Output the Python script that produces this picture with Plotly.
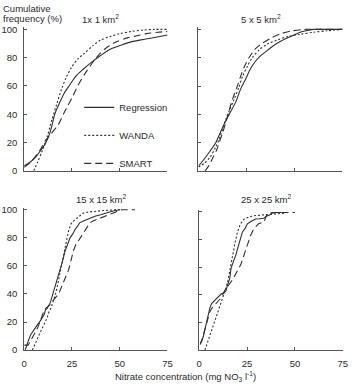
import plotly.graph_objects as go

W, H = 353, 388

# ---------------- data ----------------
# Panel 1: 1 x 1 km2
p1_reg_x = [0, 3, 6, 9, 11, 13.5, 16, 18.5, 21, 24, 27, 31, 35, 40, 45, 51, 57, 63, 69, 75]
p1_reg_y = [3.5, 6, 9.7, 15, 19, 27, 40, 48, 55, 61, 67, 72, 76.5, 81.5, 86, 89, 91.5, 93, 94.5, 96]
p1_wan_x = [5, 7, 9.4, 12, 14.5, 17, 19.6, 22, 24.7, 28, 31.5, 36, 40, 45, 50, 56, 62, 68, 75]
p1_wan_y = [0, 6, 14, 24, 36, 47, 58, 66, 73, 79, 83, 88.5, 92.5, 95, 97, 98.5, 99.5, 100, 100]
p1_sma_x = [0, 4, 8, 11, 14, 18, 20.5, 23, 25.5, 28, 31.5, 35, 39, 43.5, 48, 54, 59, 64, 70, 75]
p1_sma_y = [2.5, 7, 14, 21, 26, 33, 40, 46.5, 53, 60, 68, 75, 82, 87.5, 91, 94, 95.5, 97, 98, 98.5]

# Panel 2: 5 x 5 km2
p2_reg_x = [0, 3, 6, 9, 11, 14.4, 17, 19.5, 22, 24.6, 27, 29.7, 32, 34.8, 39, 43.3, 48, 52, 56, 60, 67, 75]
p2_reg_y = [3.4, 8.5, 14, 20, 26, 36, 42.5, 49, 58, 65, 72, 77.5, 81, 84, 88.5, 92, 95, 97.5, 99, 100, 100, 100]
p2_wan_x = [0, 3, 6, 9, 11, 14.4, 16.5, 18.7, 21, 23, 25.5, 28, 32, 36.5, 41, 46.7, 53, 60, 67, 75]
p2_wan_y = [2.8, 5.5, 9.7, 17, 23.4, 37, 44, 51, 59, 67, 74, 80, 86, 90, 92.5, 95, 96.5, 98, 99, 100]
p2_sma_x = [3.4, 5.5, 7.6, 9.5, 11, 12.8, 14.4, 16, 17.8, 20, 22, 24, 26.3, 29.5, 33, 38, 43, 49, 55, 62, 75]
p2_sma_y = [0, 4, 9.7, 15, 21, 28, 35, 43, 51, 59, 67, 74, 80, 86, 90, 94, 97, 99, 100, 100, 100]

# Panel 3: 15 x 15 km2
p3_reg_x = [0.5, 1, 2, 3.4, 5, 6.9, 8.5, 9.5, 10.5, 11.2, 12, 13.7, 15, 16.3, 17.5, 18.9, 20, 21.5,
            22.8, 24, 25.5, 26.6, 28, 29, 31, 32.6, 35, 37, 40, 43, 46, 50]
p3_reg_y = [0, 2.5, 6, 11, 14.5, 18, 21, 23.6, 25.5, 29, 29.5, 34, 40, 45.6, 51, 57, 63, 71,
            75.5, 80, 83, 86, 88.5, 90.7, 92, 93, 94.5, 95.4, 96.5, 98, 99, 100]
p3_wan_x = [4.3, 5.5, 6.9, 8.5, 10.3, 12, 12.9, 14, 15.5, 17, 18, 19.5, 20.6, 22, 23.2, 24.5,
            25.8, 28, 31, 34, 37, 42, 47, 51]
p3_wan_y = [0, 4, 8.6, 13, 18, 23, 27, 30, 36, 43, 50, 60, 69, 79, 85, 90, 92, 94.5, 97.7, 98.5,
            99, 99.5, 100, 100]
p3_sma_x = [0, 2, 3.5, 5, 6.9, 8.5, 10.3, 11.5, 12.9, 14, 15.5, 17, 18, 19.5, 20.6, 22, 23.2,
            24.5, 25.8, 27, 28.4, 29.5, 31, 32.5, 34.4, 36, 37.8, 40, 43, 45, 48, 51, 54, 58]
p3_sma_y = [3.5, 3.5, 7, 11, 15.5, 21, 28, 30, 32, 33, 36, 38.7, 40, 45, 49, 53, 57, 64, 71,
            75, 78, 80, 82.6, 86, 90.7, 92, 93, 94.5, 96, 97, 98.5, 100, 100, 100]

# Panel 4: 25 x 25 km2
p4_reg_x = [0.5, 1.4, 2.2, 3, 3.5, 4, 4.8, 5.5, 6.5, 7.5, 9, 10.5, 11.6, 13, 14, 15, 16, 16.7,
            18, 19.2, 20, 21, 22, 22.6, 24, 25.2, 27, 29.4, 31.5, 33.7, 35.4, 36.5, 38, 40, 43]
p4_reg_y = [5.4, 6.6, 10, 14.8, 19, 21, 26.6, 30, 33.6, 35, 37, 39, 40.7, 41.5, 43, 47.8, 52,
            59.5, 64, 69, 73, 78.4, 82, 85.4, 88, 91.3, 93, 94.8, 95, 95.3, 97, 97.5, 99, 99.5, 99.5]
p4_wan_x = [3, 4, 5.6, 7, 9, 10.5, 12.4, 13.8, 15, 16.3, 17.5, 18.8, 20, 21.5, 23.5, 25.5, 27.7,
            30, 32.8, 35, 38, 41, 44.7]
p4_wan_y = [0, 4, 10, 16, 24, 30, 38, 44, 50, 60, 69, 78, 85.4, 91, 94.8, 96, 97, 97.3, 97.6,
            98, 98.4, 99, 99]
p4_sma_x = [0.5, 1.2, 2.2, 3, 3.9, 4.8, 5.6, 6.5, 7.3, 8.5, 10, 11.6, 13.3, 14.5, 15.8, 17.5,
            19.2, 20.5, 21.8, 23, 24.3, 25.5, 26.9, 28.6, 30, 31, 32.5, 33.7, 34.5, 35.4, 37, 38,
            42, 46, 50]
p4_sma_y = [4, 6, 11, 15, 19.5, 24, 27.8, 30, 31.3, 33, 36, 38, 43, 45, 47.8, 51, 55, 58, 62,
            67, 72.5, 77, 83, 87.8, 90, 91.3, 92, 92.5, 95, 98.4, 99, 99.5, 99.5, 99.5, 99.5]

series_names = ["Regression", "WANDA", "SMART"]
panel_titles = ["1x 1 km<sup>2</sup>", "5 x 5 km<sup>2</sup>",
                "15 x 15 km<sup>2</sup>", "25 x 25 km<sup>2</sup>"]
x_ticks = [0, 25, 50, 75]
y_ticks = [0, 20, 40, 60, 80, 100]
y_label_lines = ["Cumulative", "frequency (%)"]
x_label = "Nitrate concentration (mg NO<sub>3</sub> l<sup>-1</sup>)"

panels = [
    [(p1_reg_x, p1_reg_y), (p1_wan_x, p1_wan_y), (p1_sma_x, p1_sma_y)],
    [(p2_reg_x, p2_reg_y), (p2_wan_x, p2_wan_y), (p2_sma_x, p2_sma_y)],
    [(p3_reg_x, p3_reg_y), (p3_wan_x, p3_wan_y), (p3_sma_x, p3_sma_y)],
    [(p4_reg_x, p4_reg_y), (p4_wan_x, p4_wan_y), (p4_sma_x, p4_sma_y)],
]

# ---------------- styling / layout ----------------
FONT = "Liberation Sans, Arial, sans-serif"
LINE_C = "#2f2f2f"
AXIS_C = "#555555"
TXT_C = "#2a2a2a"
dashes = ["solid", "2px,2px", "7px,4px"]
shapes_smooth = [True, True, False, False]

def px2x(p):
    return p / W

def px2y(p):
    return 1 - p / H

# plot-area pixel boxes: (left, right, y of 0, y of top range)
YMAX = 101.5
boxes = [
    (21.7, 168.3, 170.7, 170.7 - 144.7 * YMAX / 100),
    (200.0, 347.3, 171.0, 171.0 - 145.0 * YMAX / 100),
    (21.7, 168.3, 354.3, 354.3 - 143.6 * YMAX / 100),
    (200.7, 347.7, 354.3, 354.3 - 141.6 * YMAX / 100),
]

fig = go.Figure()
layout = dict(
    width=W, height=H,
    margin=dict(l=0, r=0, t=0, b=0),
    paper_bgcolor="white", plot_bgcolor="white",
    font=dict(family=FONT, size=9.5, color=TXT_C),
    showlegend=True,
)

for i, (series, box) in enumerate(zip(panels, boxes)):
    k = "" if i == 0 else str(i + 1)
    l, r, yb, yt = box
    for j, (xs, ys) in enumerate(series):
        fig.add_trace(go.Scatter(
            x=xs, y=ys, mode="lines",
            name=series_names[j],
            legendgroup=series_names[j],
            showlegend=(i == 0),
            line=dict(color=LINE_C, width=1.1, dash=dashes[j],
                      shape="spline" if shapes_smooth[i] else "linear",
                      smoothing=0.8),
            xaxis="x" + k, yaxis="y" + k,
            hoverinfo="skip",
        ))
    show_x_labels = i >= 2
    show_y_labels = i in (0, 2)
    layout["xaxis" + k] = dict(
        domain=[px2x(l), px2x(r)], range=[0, 75], anchor="y" + k,
        tickvals=x_ticks, showticklabels=show_x_labels,
        ticks="inside", ticklen=3, tickcolor=AXIS_C, tickwidth=1,
        showline=True, linecolor=AXIS_C, linewidth=1,
        showgrid=False, zeroline=False, fixedrange=True,
        ticklabelstandoff=5,
        tickfont=dict(family=FONT, size=9.5, color=TXT_C),
    )
    layout["yaxis" + k] = dict(
        domain=[px2y(yb), px2y(yt)], range=[0, YMAX], anchor="x" + k,
        tickvals=y_ticks, showticklabels=show_y_labels,
        ticks="inside", ticklen=3, tickcolor=AXIS_C, tickwidth=1,
        showline=True, linecolor=AXIS_C, linewidth=1,
        showgrid=False, zeroline=False, fixedrange=True,
        ticklabelstandoff=4,
        tickfont=dict(family=FONT, size=9.5, color=TXT_C),
    )

title_pos = [(100, 15), (264, 15), (100, 200), (269, 200)]
annotations = []
for t, (tx, ty) in zip(panel_titles, title_pos):
    annotations.append(dict(text=t, x=px2x(tx), y=px2y(ty), xref="paper", yref="paper",
                            xanchor="center", yanchor="middle", showarrow=False,
                            font=dict(family=FONT, size=9.5, color=TXT_C)))
for txt, ty in zip(y_label_lines, (4.5, 14.5)):
    annotations.append(dict(text=txt, x=px2x(-2), y=px2y(ty), xref="paper", yref="paper",
                            xanchor="left", yanchor="middle", align="left", showarrow=False,
                            font=dict(family=FONT, size=9.5, color=TXT_C)))
annotations.append(dict(text=x_label, x=px2x(187), y=px2y(381), xref="paper", yref="paper",
                        xanchor="center", yanchor="middle", showarrow=False,
                        font=dict(family=FONT, size=9.5, color=TXT_C)))
layout["annotations"] = annotations

layout["legend"] = dict(
    x=px2x(78), y=px2y(91), xanchor="left", yanchor="top",
    bgcolor="rgba(0,0,0,0)", borderwidth=0,
    tracegroupgap=9, itemwidth=30,
    font=dict(family=FONT, size=9.5, color=TXT_C),
)

fig.update_layout(**layout)
fig.write_html("out.html")
